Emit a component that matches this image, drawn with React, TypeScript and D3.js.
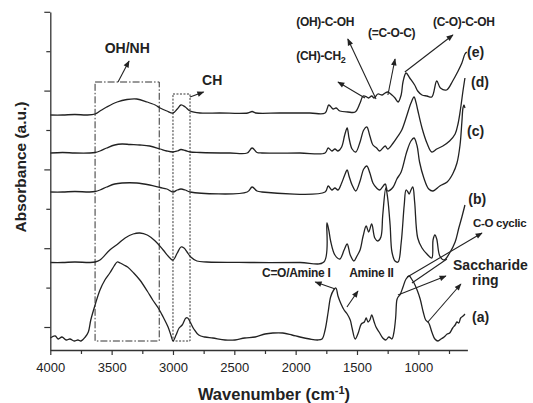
import React, { useRef, useEffect } from 'react';
import * as d3 from 'd3';

// spectra: [wavenumber (cm-1), absorbance (a.u., stacked offset)]
const specA: [number, number][] = [
  [4000, -0.11], [3960, -0.09], [3935, -0.12], [3905, -0.1], [3870, -0.13], [3840, -0.12], [3805, -0.14],
  [3775, -0.13], [3750, -0.14], [3715, -0.1], [3690, -0.05], [3670, 0.07], [3635, 0.22], [3595, 0.37],
  [3555, 0.47], [3515, 0.54], [3480, 0.61], [3455, 0.65], [3430, 0.64], [3400, 0.62], [3370, 0.6],
  [3320, 0.54], [3270, 0.47], [3210, 0.36], [3165, 0.27], [3120, 0.19], [3080, 0.1], [3040, 0.0],
  [3015, -0.09], [3000, -0.14], [2975, -0.08], [2950, -0.01], [2925, 0.02], [2895, 0.09], [2880, 0.09],
  [2860, 0.05], [2830, -0.02], [2790, -0.08], [2740, -0.1], [2675, -0.11], [2575, -0.13], [2495, -0.13],
  [2415, -0.11], [2330, -0.1], [2250, -0.07], [2185, -0.06], [2105, -0.06], [2030, -0.08], [1965, -0.1],
  [1885, -0.12], [1820, -0.13], [1785, -0.12], [1760, -0.03], [1735, 0.15], [1715, 0.3], [1690, 0.37],
  [1672, 0.39], [1655, 0.31], [1630, 0.23], [1605, 0.17], [1580, 0.13], [1555, 0.07], [1540, -0.01],
  [1515, -0.12], [1490, -0.06], [1465, 0.03], [1440, 0.05], [1425, 0.09], [1410, 0.05], [1395, 0.07],
  [1380, 0.12], [1360, 0.05], [1345, 0.0], [1320, -0.05], [1290, -0.11], [1265, -0.13], [1240, -0.1],
  [1215, -0.12], [1200, -0.06], [1185, 0.09], [1175, 0.27], [1165, 0.3], [1150, 0.32], [1125, 0.4],
  [1100, 0.48], [1075, 0.51], [1050, 0.47], [1035, 0.44], [1010, 0.37], [985, 0.28], [960, 0.15],
  [940, 0.07], [915, 0.04], [890, -0.05], [865, -0.12], [840, -0.14], [815, -0.12], [790, -0.1],
  [765, -0.07], [745, -0.06], [720, -0.01], [700, 0.02], [685, 0.05], [670, 0.04], [655, 0.09],
  [635, 0.11], [620, 0.13],
];

const specB: [number, number][] = [
  [4000, 0.645], [3900, 0.645], [3800, 0.65], [3680, 0.645], [3635, 0.65], [3595, 0.67], [3515, 0.77],
  [3450, 0.83], [3390, 0.89], [3325, 0.93], [3270, 0.94], [3210, 0.92], [3145, 0.86], [3080, 0.77],
  [3025, 0.69], [3000, 0.67], [2965, 0.74], [2935, 0.8], [2910, 0.79], [2885, 0.75], [2855, 0.7],
  [2805, 0.66], [2725, 0.65], [2370, 0.645], [1965, 0.645], [1770, 0.65], [1745, 1.04], [1730, 0.97],
  [1715, 0.86], [1680, 0.72], [1640, 0.68], [1605, 0.77], [1580, 0.83], [1555, 0.72], [1525, 0.66],
  [1500, 0.71], [1475, 0.77], [1450, 0.91], [1425, 1.01], [1405, 0.95], [1380, 1.03], [1355, 0.89],
  [1330, 0.86], [1305, 0.9], [1290, 1.12], [1265, 1.39], [1250, 1.29], [1230, 1.02], [1215, 0.75],
  [1190, 0.66], [1165, 0.65], [1140, 0.84], [1115, 1.22], [1100, 1.37], [1085, 1.35], [1075, 1.33],
  [1060, 1.37], [1045, 1.4], [1030, 1.25], [1005, 0.89], [970, 0.79], [930, 0.73], [890, 0.69],
  [880, 0.87], [865, 0.92], [850, 0.88], [825, 0.71], [790, 0.67], [745, 0.74], [700, 0.85],
  [670, 0.99], [645, 1.1], [620, 1.22],
];

const specC: [number, number][] = [
  [4000, 1.35], [3900, 1.35], [3800, 1.355], [3680, 1.35], [3635, 1.355], [3595, 1.37], [3540, 1.4],
  [3475, 1.43], [3415, 1.44], [3295, 1.44], [3190, 1.42], [3105, 1.395], [3050, 1.38], [3000, 1.35],
  [2965, 1.37], [2935, 1.38], [2900, 1.37], [2860, 1.35], [2395, 1.35], [2355, 1.4], [2315, 1.36],
  [2275, 1.35], [1760, 1.35], [1735, 1.41], [1705, 1.37], [1680, 1.39], [1655, 1.37], [1625, 1.44],
  [1600, 1.52], [1580, 1.57], [1565, 1.51], [1540, 1.42], [1510, 1.36], [1475, 1.46], [1445, 1.58],
  [1420, 1.61], [1395, 1.54], [1370, 1.44], [1340, 1.39], [1315, 1.37], [1270, 1.43], [1250, 1.36],
  [1205, 1.4], [1175, 1.48], [1140, 1.55], [1095, 1.75], [1060, 1.86], [1035, 1.89], [1010, 1.81],
  [990, 1.65], [955, 1.49], [915, 1.38], [880, 1.36], [825, 1.41], [765, 1.45], [720, 1.53],
  [685, 1.64], [660, 1.82], [645, 2.05], [636, 2.19], [628, 2.22], [620, 2.19],
];

const specD: [number, number][] = [
  [4000, 1.74], [3900, 1.745], [3800, 1.74], [3680, 1.74], [3635, 1.745], [3595, 1.76], [3540, 1.79],
  [3475, 1.82], [3415, 1.83], [3350, 1.825], [3270, 1.82], [3190, 1.81], [3105, 1.78], [3050, 1.76],
  [3000, 1.75], [2965, 1.76], [2935, 1.775], [2900, 1.765], [2860, 1.75], [2780, 1.745], [2535, 1.74],
  [2395, 1.74], [2355, 1.79], [2315, 1.745], [2275, 1.74], [1965, 1.74], [1760, 1.74], [1735, 1.79],
  [1705, 1.76], [1680, 1.78], [1655, 1.76], [1625, 1.8], [1600, 1.92], [1580, 1.99], [1565, 1.89],
  [1540, 1.78], [1510, 1.75], [1475, 1.85], [1445, 1.97], [1420, 2.0], [1395, 1.91], [1370, 1.82],
  [1340, 1.79], [1315, 1.76], [1270, 1.81], [1250, 1.78], [1205, 1.84], [1165, 1.91], [1135, 1.97],
  [1095, 2.11], [1060, 2.24], [1035, 2.3], [1020, 2.25], [1005, 2.17], [970, 1.99], [930, 1.84],
  [890, 1.75], [850, 1.78], [800, 1.81], [745, 1.86], [700, 1.93], [675, 2.04], [655, 2.19],
  [635, 2.37], [620, 2.49],
];

const specE: [number, number][] = [
  [4000, 2.12], [3900, 2.12], [3800, 2.125], [3700, 2.12], [3635, 2.13], [3595, 2.16], [3540, 2.2],
  [3455, 2.25], [3375, 2.275], [3295, 2.28], [3210, 2.25], [3145, 2.22], [3105, 2.19], [3050, 2.16],
  [3000, 2.14], [2965, 2.18], [2935, 2.22], [2900, 2.2], [2860, 2.16], [2780, 2.14], [2620, 2.14],
  [2390, 2.14], [2355, 2.155], [2325, 2.14], [2130, 2.14], [1885, 2.14], [1760, 2.14], [1730, 2.22],
  [1695, 2.18], [1670, 2.19], [1640, 2.16], [1575, 2.15], [1515, 2.15], [1475, 2.24], [1450, 2.31],
  [1420, 2.3], [1405, 2.29], [1380, 2.31], [1360, 2.29], [1330, 2.33], [1295, 2.32], [1270, 2.34],
  [1250, 2.35], [1215, 2.32], [1190, 2.29], [1165, 2.25], [1140, 2.32], [1125, 2.45], [1100, 2.54],
  [1070, 2.49], [1030, 2.42], [1005, 2.36], [970, 2.32], [930, 2.31], [890, 2.3], [850, 2.46],
  [820, 2.39], [770, 2.37], [720, 2.46], [680, 2.55], [645, 2.64], [620, 2.73], [605, 2.75],
];

const spectra = [specA, specB, specC, specD, specE];
const curveLabels = [
  { text: '(a)', wn: 562, v: 0.05 },
  { text: '(b)', wn: 593, v: 1.23 },
  { text: '(c)', wn: 603, v: 1.91 },
  { text: '(d)', wn: 570, v: 2.4 },
  { text: '(e)', wn: 603, v: 2.7 },
];

const xMajor = [4000, 3500, 3000, 2500, 2000, 1500, 1000];
const xMinor = [3750, 3250, 2750, 2250, 1750, 1250, 750];
const yTickStep = 0.394;

// annotation boxes (wavenumber range, absorbance range)
const boxes = [
  { wn: [3635, 3112], v: [2.45, -0.14], dash: '7,2,1.5,2' },
  { wn: [3000, 2861], v: [2.33, -0.14], dash: '2,1.5' },
];

// annotation arrows: from -> to (head at "to")
const arrows = [
  { from: [3448, 2.45], to: [3358, 2.66], head: true },
  { from: [2861, 2.3], to: [2750, 2.35], head: true },
  { from: [1435, 2.29], to: [1655, 2.45], head: true },
  { from: [1345, 2.28], to: [1575, 2.88], head: true },
  { from: [1248, 2.32], to: [1190, 2.68], head: true },
  { from: [1110, 2.55], to: [718, 2.92], head: true },
  { from: [1677, 0.38], to: [1840, 0.45], head: true },
  { from: [1582, 0.2], to: [1492, 0.36], head: true },
  { from: [1090, 0.5], to: [481, 0.94], head: true },
  { from: [1052, 0.44], to: [767, 0.68], head: false },
  { from: [1166, 0.32], to: [775, 0.51], head: true },
  { from: [922, 0.05], to: [653, 0.43], head: true },
];

const notes = [
  { text: 'OH/NH', wn: 3373, v: 2.74, size: 14, anchor: 'middle' },
  { text: 'CH', wn: 2680, v: 2.42, size: 14, anchor: 'middle' },
  { text: '(OH)-C-OH', wn: 1995, v: 3.01, size: 12, anchor: 'start' },
  { text: '(=C-O-C)', wn: 1410, v: 2.9, size: 12, anchor: 'start' },
  { text: '(C-O)-C-OH', wn: 880, v: 3.01, size: 12, anchor: 'start' },
  { text: 'C=O/Amine I', wn: 2274, v: 0.5, size: 12, anchor: 'start' },
  { text: 'Amine II', wn: 1563, v: 0.5, size: 12, anchor: 'start' },
  { text: 'C-O cyclic', wn: 554, v: 1.005, size: 11.5, anchor: 'start' },
  { text: 'Saccharide', wn: 717, v: 0.57, size: 14, anchor: 'start' },
  { text: 'ring', wn: 562, v: 0.42, size: 14, anchor: 'start' },
];

const FONT = 'Arial, "Liberation Sans", Helvetica, sans-serif';
const INK = '#222';

const App = () => {
  const svgRef = useRef<SVGSVGElement>(null);

  useEffect(() => {
    const svg = d3.select(svgRef.current);
    svg.selectAll('*').remove();

    const x = d3.scaleLinear().domain([4000, 600]).range([50.3, 467.4]);
    const y = d3.scaleLinear().domain([-0.23, 3.15]).range([350, 12]);

    svg.append('rect').attr('width', 533).attr('height', 403).attr('fill', '#fff');

    const defs = svg.append('defs');
    defs.append('marker')
      .attr('id', 'head')
      .attr('viewBox', '0 0 10 10')
      .attr('refX', 9).attr('refY', 5)
      .attr('markerWidth', 8).attr('markerHeight', 7)
      .attr('markerUnits', 'userSpaceOnUse')
      .attr('orient', 'auto')
      .append('path')
      .attr('d', 'M0,1 L10,5 L0,9 Z')
      .attr('fill', INK);

    // boxes
    boxes.forEach(b => {
      svg.append('rect')
        .attr('x', x(b.wn[0]))
        .attr('y', y(b.v[0]))
        .attr('width', x(b.wn[1]) - x(b.wn[0]))
        .attr('height', y(b.v[1]) - y(b.v[0]))
        .attr('fill', 'none')
        .attr('stroke', '#333')
        .attr('stroke-width', 1)
        .attr('stroke-dasharray', b.dash);
    });

    // spectra
    const line = d3.line<[number, number]>()
      .x(d => x(d[0]))
      .y(d => y(d[1]))
      .curve(d3.curveCatmullRom.alpha(0.5));

    spectra.forEach(s => {
      svg.append('path')
        .datum(s)
        .attr('fill', 'none')
        .attr('stroke', INK)
        .attr('stroke-width', 1.3)
        .attr('stroke-linejoin', 'round')
        .attr('d', line);
    });

    // x axis
    const xAxis = svg.append('g')
      .attr('transform', 'translate(0,350)')
      .call(d3.axisBottom(x).tickValues(xMajor).tickSize(5).tickSizeOuter(0).tickPadding(7.5).tickFormat(d3.format('d')));
    svg.append('g')
      .attr('transform', 'translate(0,350)')
      .call(d3.axisBottom(x).tickValues(xMinor).tickSize(4).tickSizeOuter(0).tickFormat(() => ''))
      .select('.domain').remove();
    xAxis.selectAll('text')
      .attr('font-family', FONT)
      .attr('font-size', 13)
      .attr('fill', INK);

    // y axis (no labels)
    const yVals = d3.range(9).map(i => i * yTickStep);
    const yAxis = svg.append('g')
      .attr('transform', 'translate(50.3,0)')
      .call(d3.axisLeft(y).tickValues(yVals.filter((_, i) => i % 2 === 0)).tickSize(6).tickSizeOuter(0).tickFormat(() => ''));
    svg.append('g')
      .attr('transform', 'translate(50.3,0)')
      .call(d3.axisLeft(y).tickValues(yVals.filter((_, i) => i % 2 === 1)).tickSize(4).tickSizeOuter(0).tickFormat(() => ''))
      .select('.domain').remove();

    [xAxis, yAxis].forEach(g => {
      g.select('.domain').attr('stroke', '#333').attr('stroke-width', 1.3);
    });
    svg.selectAll('.tick line').attr('stroke', '#333').attr('stroke-width', 1.2);

    // axis titles
    const xt = svg.append('text')
      .attr('x', 274).attr('y', 400)
      .attr('text-anchor', 'middle')
      .attr('font-family', FONT).attr('font-weight', 'bold').attr('font-size', 16.5)
      .attr('fill', INK);
    xt.append('tspan').text('Wavenumber (cm');
    xt.append('tspan').attr('dy', -6).attr('font-size', 11).text('-1');
    xt.append('tspan').attr('dy', 6).text(')');

    svg.append('text')
      .attr('transform', 'translate(26,167) rotate(-90)')
      .attr('text-anchor', 'middle')
      .attr('font-family', FONT).attr('font-weight', 'bold').attr('font-size', 15.5)
      .attr('fill', INK)
      .text('Absorbance (a.u.)');

    // arrows
    arrows.forEach(a => {
      svg.append('line')
        .attr('x1', x(a.from[0])).attr('y1', y(a.from[1]))
        .attr('x2', x(a.to[0])).attr('y2', y(a.to[1]))
        .attr('stroke', INK)
        .attr('stroke-width', 1.1)
        .attr('marker-end', a.head ? 'url(#head)' : null);
    });

    // notes
    notes.forEach(n => {
      svg.append('text')
        .attr('x', x(n.wn)).attr('y', y(n.v))
        .attr('text-anchor', n.anchor)
        .attr('font-family', FONT).attr('font-weight', 'bold').attr('font-size', n.size)
        .attr('letter-spacing', n.size < 13 ? -0.3 : 0)
        .attr('fill', INK)
        .text(n.text);
    });

    const ch2 = svg.append('text')
      .attr('x', x(1995)).attr('y', y(2.67))
      .attr('font-family', FONT).attr('font-weight', 'bold').attr('font-size', 12)
      .attr('letter-spacing', -0.3)
      .attr('fill', INK);
    ch2.append('tspan').text('(CH)-CH');
    ch2.append('tspan').attr('dy', 3).attr('font-size', 9).text('2');

    // curve labels
    curveLabels.forEach(c => {
      svg.append('text')
        .attr('x', x(c.wn)).attr('y', y(c.v))
        .attr('font-family', FONT).attr('font-weight', 'bold').attr('font-size', 14)
        .attr('fill', INK)
        .text(c.text);
    });
  }, []);

  return (
    <svg ref={svgRef} width={533} height={403} style={{ position: 'absolute', left: 0, top: 0 }}></svg>
  );
};

export default App;
